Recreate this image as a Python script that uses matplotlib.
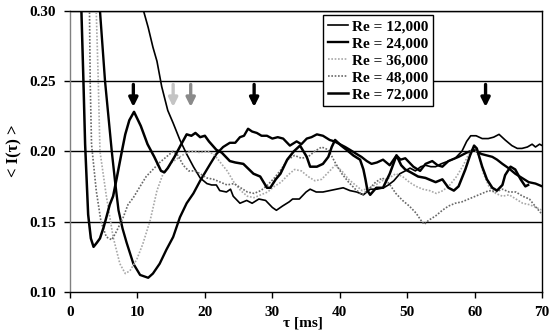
"""Mean intensity <I(tau)> vs time lag for several Reynolds numbers"""

import matplotlib.pyplot as plt

# Re = 12,000 (thin solid)
x_12k = [10.0, 10.9, 11.6, 12.3, 12.9, 13.6, 14.5, 15.3, 16.3, 17.3, 18.3, 19.3, 20.3,
         21.0, 21.7, 22.2, 23.2, 23.8, 24.2, 25.2, 26.2, 27.0, 28.0, 29.0, 30.0, 30.6,
         31.5, 32.5, 33.0, 34.0, 35.0, 35.6, 36.5, 37.5, 38.5, 39.5, 40.5, 41.5, 42.5,
         43.5, 44.5, 45.5, 46.5, 47.2, 48.0, 48.9, 49.7, 50.4, 51.2, 52.0, 52.7, 53.5,
         54.2, 55.0, 56.1, 57.1, 58.1, 58.8, 59.4, 60.2, 61.1, 62.0, 62.8, 63.6, 64.5,
         65.5, 66.3, 67.0, 67.8, 68.5, 69.0, 69.6, 70.0]
y_12k = [0.320, 0.300, 0.288, 0.274, 0.264, 0.246, 0.229, 0.220, 0.208, 0.198, 0.189, 0.181, 0.177,
         0.176, 0.176, 0.172, 0.171, 0.173, 0.168, 0.163, 0.165, 0.163, 0.166, 0.165, 0.160, 0.158,
         0.161, 0.164, 0.166, 0.166, 0.171, 0.173, 0.171, 0.171, 0.172, 0.173, 0.174, 0.172, 0.171,
         0.169, 0.173, 0.173, 0.174, 0.176, 0.179, 0.184, 0.186, 0.188, 0.186, 0.189, 0.190, 0.189,
         0.189, 0.191, 0.193, 0.195, 0.200, 0.207, 0.211, 0.211, 0.209, 0.209, 0.210, 0.212, 0.208,
         0.204, 0.202, 0.202, 0.203, 0.205, 0.203, 0.205, 0.204]

# Re = 24,000 (thick solid)
x_24k = [4.2, 4.45, 5.2, 5.7, 6.2, 6.7, 7.2, 7.8, 8.4, 9.4, 10.4, 11.0, 11.6, 12.3, 13.3,
         14.3, 15.3, 16.3, 17.3, 18.3, 19.3, 20.8, 21.7, 22.7, 23.7, 24.5, 25.2, 25.8, 26.4,
         27.0, 27.7, 28.4, 29.2, 30.0, 30.8, 31.6, 32.6, 33.6, 34.3, 35.1, 35.8, 36.6, 37.5,
         38.5, 39.2, 40.0, 40.8, 41.5, 42.5, 43.2, 44.0, 44.7, 45.5, 46.4, 47.4, 48.4, 49.0,
         49.7, 50.9, 51.9, 52.7, 53.7, 54.5, 55.2, 56.1, 57.6, 58.8, 59.9, 61.0, 62.6, 63.3,
         64.1, 65.0, 66.0, 67.0, 68.0, 69.0, 70.0]
y_24k = [0.330, 0.300, 0.250, 0.225, 0.200, 0.178, 0.158, 0.145, 0.135, 0.120, 0.112, 0.111, 0.110,
         0.113, 0.120, 0.130, 0.139, 0.153, 0.163, 0.170, 0.179, 0.191, 0.198, 0.203, 0.206, 0.206,
         0.210, 0.211, 0.216, 0.214, 0.213, 0.211, 0.211, 0.209, 0.210, 0.209, 0.204, 0.207, 0.205,
         0.209, 0.210, 0.212, 0.211, 0.208, 0.207, 0.205, 0.203, 0.201, 0.198, 0.196, 0.193, 0.191,
         0.192, 0.194, 0.190, 0.197, 0.194, 0.195, 0.189, 0.186, 0.191, 0.193, 0.190, 0.189, 0.193,
         0.196, 0.199, 0.201, 0.198, 0.196, 0.194, 0.191, 0.188, 0.184, 0.181, 0.178, 0.177, 0.175]

# Re = 36,000 (light dotted)
x_36k = [3.7, 3.9, 4.2, 4.45, 5.4, 6.4, 7.4, 8.2, 8.9, 9.9, 10.8, 11.9, 12.9, 13.8, 15.1,
         16.3, 17.3, 18.3, 19.3, 20.3, 21.3, 22.3, 23.3, 24.3, 25.3, 26.3, 27.3, 28.3, 29.3,
         30.3, 31.3, 32.3, 33.3, 34.3, 35.3, 36.3, 37.3, 38.3, 39.3, 40.3, 41.3, 42.3, 43.3,
         44.3, 45.3, 46.3, 47.3, 48.3, 49.3, 50.3, 51.3, 52.3, 53.3, 54.3, 55.3, 56.3, 57.3,
         58.3, 59.1, 59.9, 60.6, 61.3, 62.1, 63.1, 64.1, 65.1, 66.1, 67.1, 68.1, 69.1, 70.0]
y_36k = [0.330, 0.300, 0.250, 0.200, 0.168, 0.139, 0.120, 0.113, 0.115, 0.123, 0.134, 0.151, 0.172,
         0.184, 0.192, 0.196, 0.199, 0.200, 0.199, 0.200, 0.198, 0.192, 0.186, 0.178, 0.172, 0.168,
         0.167, 0.169, 0.171, 0.175, 0.178, 0.183, 0.187, 0.186, 0.182, 0.179, 0.180, 0.185, 0.190,
         0.186, 0.180, 0.176, 0.172, 0.174, 0.176, 0.179, 0.181, 0.184, 0.182, 0.178, 0.175, 0.173,
         0.172, 0.170, 0.172, 0.176, 0.182, 0.190, 0.198, 0.203, 0.196, 0.184, 0.175, 0.170, 0.168,
         0.169, 0.166, 0.163, 0.162, 0.160, 0.158]

# Re = 48,000 (darker dotted)
x_48k = [2.7, 2.9, 3.0, 3.2, 3.9, 4.6, 5.4, 6.2, 6.9, 7.9, 8.6, 9.4, 10.4, 11.3, 12.3,
         13.3, 14.3, 15.3, 16.0, 16.8, 17.6, 18.5, 19.3, 20.3, 21.3, 22.3, 23.3, 24.3, 25.3,
         26.3, 27.3, 28.3, 29.3, 30.3, 31.3, 32.3, 33.3, 34.3, 35.3, 36.3, 37.3, 38.3, 39.3,
         40.3, 41.3, 42.3, 43.3, 44.3, 45.3, 46.3, 47.3, 48.3, 49.3, 50.3, 51.3, 52.0, 52.5,
         53.2, 54.2, 55.2, 56.1, 57.1, 58.1, 59.1, 60.1, 61.1, 62.1, 63.1, 64.1, 65.1, 66.1,
         67.1, 68.1, 69.1, 70.0]
y_48k = [0.330, 0.300, 0.250, 0.205, 0.172, 0.150, 0.139, 0.137, 0.143, 0.153, 0.162, 0.167, 0.175,
         0.182, 0.187, 0.192, 0.196, 0.200, 0.197, 0.190, 0.186, 0.186, 0.184, 0.181, 0.180, 0.178,
         0.176, 0.177, 0.174, 0.171, 0.170, 0.172, 0.176, 0.181, 0.187, 0.194, 0.197, 0.195, 0.196,
         0.200, 0.203, 0.201, 0.192, 0.184, 0.178, 0.173, 0.169, 0.173, 0.178, 0.181, 0.177, 0.170,
         0.165, 0.161, 0.156, 0.151, 0.148, 0.151, 0.154, 0.158, 0.161, 0.163, 0.164, 0.166, 0.168,
         0.170, 0.172, 0.171, 0.173, 0.171, 0.171, 0.168, 0.166, 0.160, 0.155]

# Re = 72,000 (thick solid)
x_72k = [1.5, 1.7, 2.0, 2.25, 2.7, 3.1, 3.5, 4.0, 4.45, 5.0, 5.4, 5.9, 6.4, 6.9, 7.3, 7.7,
         8.2, 8.8, 9.5, 10.5, 11.5, 12.5, 13.5, 14.0, 14.5, 15.5, 16.5, 17.3, 18.0, 18.6,
         19.3, 20.0, 20.6, 21.7, 22.5, 23.7, 24.5, 25.7, 27.2, 28.2, 29.2, 29.7, 30.5, 31.2,
         32.2, 33.2, 34.1, 35.1, 35.6, 36.6, 37.5, 38.3, 38.8, 39.3, 40.2, 41.0, 42.0, 43.0,
         43.5, 43.8, 44.1, 44.5, 45.4, 46.4, 47.4, 48.4, 49.1, 49.7, 50.5, 51.6, 52.7, 54.2,
         55.2, 56.1, 56.9, 57.6, 58.6, 59.3, 59.9, 60.3, 61.1, 61.8, 62.6, 63.3, 64.1, 64.5,
         65.3, 66.0, 66.8, 67.5, 67.9]
y_72k = [0.330, 0.300, 0.250, 0.205, 0.155, 0.138, 0.132, 0.135, 0.138, 0.146, 0.153, 0.162, 0.168,
         0.180, 0.190, 0.200, 0.212, 0.222, 0.228, 0.218, 0.205, 0.196, 0.186, 0.185, 0.188, 0.196,
         0.205, 0.212, 0.211, 0.213, 0.210, 0.211, 0.207, 0.201, 0.199, 0.193, 0.192, 0.191, 0.184,
         0.182, 0.174, 0.174, 0.180, 0.184, 0.194, 0.200, 0.204, 0.196, 0.189, 0.189, 0.191, 0.196,
         0.203, 0.208, 0.204, 0.201, 0.197, 0.194, 0.187, 0.180, 0.172, 0.169, 0.174, 0.174, 0.184,
         0.197, 0.190, 0.187, 0.185, 0.182, 0.181, 0.178, 0.180, 0.174, 0.172, 0.175, 0.187, 0.197,
         0.204, 0.202, 0.189, 0.180, 0.174, 0.172, 0.176, 0.183, 0.189, 0.187, 0.180, 0.175, 0.176]

# arrows marking the first peak of each curve: position, colour
arrow_x = [9.4, 15.3, 17.9, 27.3, 61.6]
arrow_colors = ['black', '#c4c4c4', '#8a8a8a', 'black', 'black']

x_ticks = [0, 10, 20, 30, 40, 50, 60, 70]
y_ticks = [0.10, 0.15, 0.20, 0.25, 0.30]


def main():
    """Main function"""
    plt.rcParams['font.family'] = ['Liberation Serif', 'DejaVu Serif']
    plt.rcParams['font.weight'] = 'bold'

    fig = plt.figure(figsize=(5.55, 3.32), dpi=100)
    ax = fig.add_axes([0.126, 0.121, 0.851, 0.847])

    #horizontal grid lines
    for yv in y_ticks[1:]:
        ax.axhline(yv, color='black', lw=1.0, zorder=1)

    #curves
    ax.plot(x_12k, y_12k, color='black', lw=1.2, label='Re = 12,000', zorder=3)
    ax.plot(x_24k, y_24k, color='black', lw=1.7, label='Re = 24,000', zorder=3)
    ax.plot(x_36k, y_36k, color='#a8a8a8', lw=1.2, ls=(0, (1, 1)), label='Re = 36,000', zorder=3)
    ax.plot(x_48k, y_48k, color='#686868', lw=1.2, ls=(0, (1, 1)), label='Re = 48,000', zorder=3)
    ax.plot(x_72k, y_72k, color='black', lw=1.8, label='Re = 72,000', zorder=3)

    #arrows
    for xa, ca in zip(arrow_x, arrow_colors):
        ax.annotate('', xy=(xa, 0.2315), xytext=(xa, 0.2475),
                    arrowprops=dict(arrowstyle='-|>', lw=2.4, color=ca,
                                    mutation_scale=13, shrinkA=0, shrinkB=0),
                    zorder=4)

    ax.set_xlim(0, 70)
    ax.set_ylim(0.10, 0.30)
    ax.set_xticks(x_ticks)
    ax.set_yticks(y_ticks)
    ax.set_yticklabels(['%.2f' % v for v in y_ticks])
    ax.tick_params(direction='out', length=4, width=1, labelsize=11, pad=6)
    for s in ax.spines.values():
        s.set_color('black')
        s.set_linewidth(1.0)
    ax.spines['left'].set_color('#808080')

    ax.set_ylabel('< I(τ) >', fontsize=12, fontweight='bold', labelpad=5)
    fig.text(0.546, 0.027, 'τ [ms]', ha='center', va='center', fontsize=11, fontweight='bold')

    leg = ax.legend(loc='upper left', bbox_to_anchor=(0.536, 0.985), fontsize=11,
                    handlelength=1.3, handletextpad=0.3, labelspacing=0.22,
                    borderpad=0.3, borderaxespad=0, fancybox=False, framealpha=1,
                    edgecolor='black')
    leg.get_frame().set_linewidth(1.0)
    leg.set_zorder(5)

    fig.savefig('out.png', dpi=100)


if __name__ == "__main__":
    main()
